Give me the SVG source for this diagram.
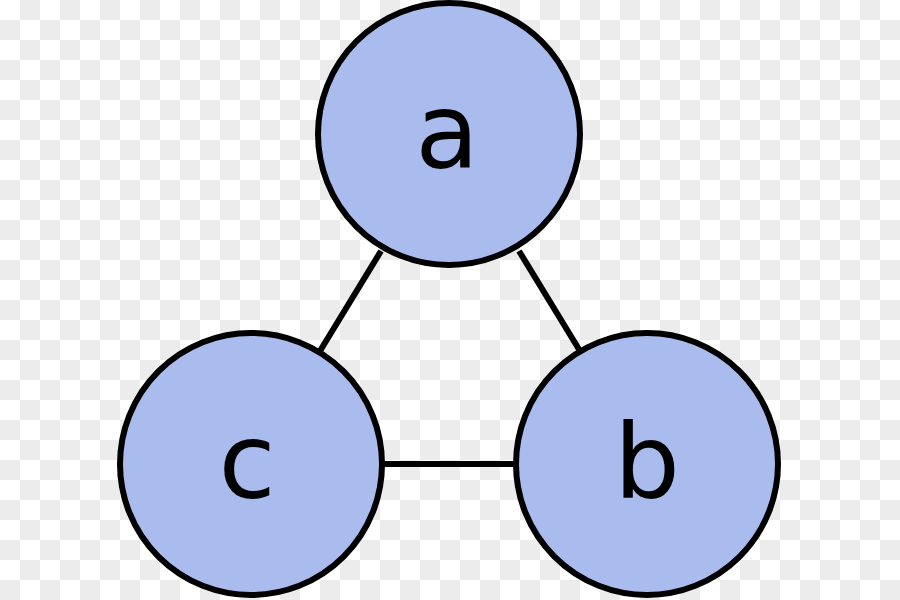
<svg xmlns="http://www.w3.org/2000/svg" width="900" height="600" viewBox="0 0 900 600">
<defs>
<pattern id="chk" x="0" y="0" width="40" height="40" patternUnits="userSpaceOnUse">
<rect width="40" height="40" fill="#ffffff"/>
<rect x="20" y="0" width="20" height="20" fill="#ececec"/>
<rect x="0" y="20" width="20" height="20" fill="#ececec"/>
</pattern>
</defs>
<style>
.node circle { fill: #aabbee; stroke: #000; stroke-width: 6; }
.node text { font-family: "DejaVu Sans", sans-serif; font-size: 104px; fill: #000; text-anchor: middle; }
.edge { stroke: #000; stroke-width: 6; fill: none; }
</style>
<rect width="900" height="600" fill="url(#chk)"/>
<g id="edges">
<line class="edge" x1="381" y1="251" x2="320" y2="351"/>
<line class="edge" x1="519" y1="251" x2="580" y2="351"/>
<line class="edge" x1="383" y1="464" x2="516" y2="464"/>
</g>
<g id="node-a" class="node">
<circle cx="449" cy="134" r="131"/>
<text x="447" y="168">a</text>
</g>
<g id="node-c" class="node">
<circle cx="251" cy="464" r="131"/>
<text x="247" y="498">c</text>
</g>
<g id="node-b" class="node">
<circle cx="647" cy="464" r="131"/>
<text x="647" y="498">b</text>
</g>
</svg>
